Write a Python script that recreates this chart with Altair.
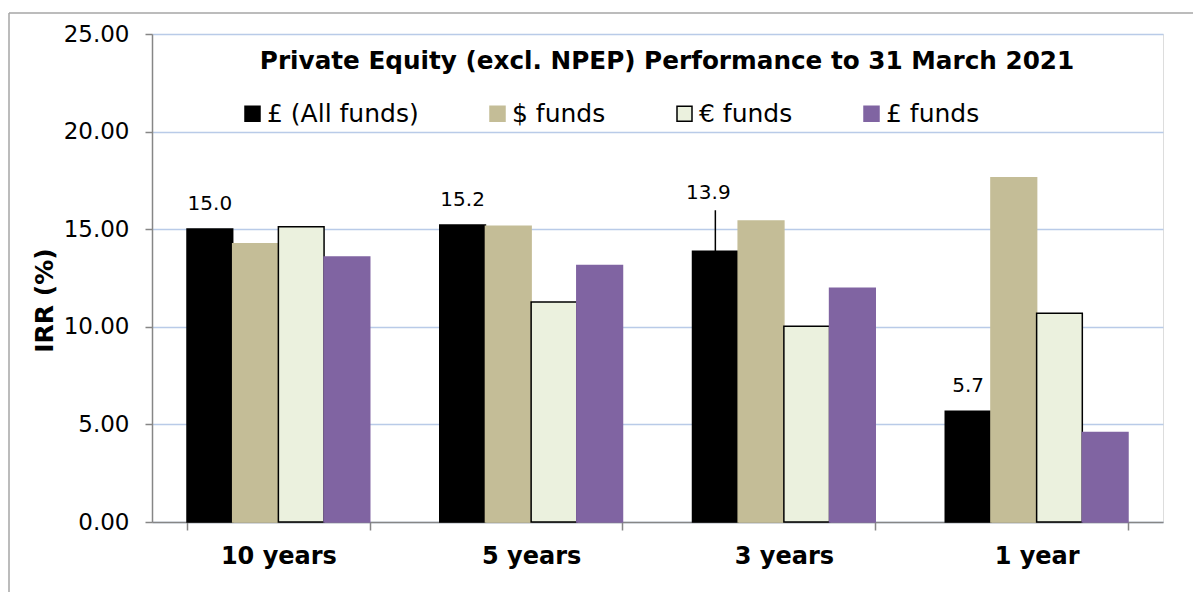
import altair as alt
import pandas as pd

periods = ["10 years", "5 years", "3 years", "1 year"]
series = ["£ (All funds)", "$ funds", "€ funds", "£ funds"]
all_funds = [15.01, 15.22, 13.87, 5.68]
usd_funds = [14.25, 15.15, 15.42, 17.63]
eur_funds = [15.12, 11.27, 10.03, 10.69]
gbp_funds = [13.57, 13.14, 11.98, 4.58]
fill_colors = ["#000000", "#c4bd97", "#ebf1de", "#8064a2"]
stroke_colors = ["#000000", "#c4bd97", "#000000", "#8064a2"]
y_ticks = [0, 5, 10, 15, 20, 25]
chart_title = "Private Equity (excl. NPEP) Performance to 31 March 2021"

rows = []
for s, vals in zip(series, [all_funds, usd_funds, eur_funds, gbp_funds]):
    for p, v in zip(periods, vals):
        rows.append({"period": p, "series": s, "value": v})
df = pd.DataFrame(rows)

FONT = "DejaVu Sans"

x_enc = alt.X("period:N", sort=periods,
              scale=alt.Scale(paddingInner=0.277, paddingOuter=0.1385),
              axis=alt.Axis(title=None, labelFont=FONT, labelFontSize=24, labelFontWeight="bold",
                            labelColor="#000000", labelAngle=0, labelPadding=14,
                            tickBand="extent", tickSize=8, tickColor="#868686", tickWidth=1.5,
                            domainColor="#868686", domainWidth=1.5, grid=False))
xo_enc = alt.XOffset("series:N", sort=series)
y_enc = alt.Y("value:Q", scale=alt.Scale(domain=[0, 25], nice=False),
              axis=alt.Axis(title="IRR (%)", values=y_ticks, format=".2f",
                            labelFont=FONT, labelFontSize=23, labelColor="#000000", labelPadding=16,
                            tickSize=7, tickColor="#868686", tickWidth=1.5,
                            domainColor="#868686", domainWidth=1.5,
                            gridColor="#b9cbe8", gridWidth=1.5,
                            titleFont=FONT, titleFontSize=25, titleFontWeight="bold", titleColor="#000000",
                            titleAngle=270, titleX=-100, titleY=266, titleBaseline="alphabetic",
                            titleAlign="center"))

color_scale = alt.Scale(domain=series, range=fill_colors)
stroke_scale = alt.Scale(domain=series, range=stroke_colors)
legend = alt.Legend(title=None, orient="none", legendX=88, legendY=67, direction="horizontal",
                    symbolType="square", symbolSize=225, symbolStrokeWidth=1.5,
                    labelFont=FONT, labelFontSize=25, labelColor="#000000", labelOffset=2,
                    columnPadding=66, padding=0, labelLimit=400)

bars = alt.Chart(df).mark_bar(strokeWidth=1.5).encode(
    x=x_enc, xOffset=xo_enc, y=y_enc,
    fill=alt.Fill("series:N", scale=color_scale, legend=legend, sort=series),
    stroke=alt.Stroke("series:N", scale=stroke_scale, legend=legend, sort=series),
)

lab_df = df[df["series"] == series[0]]
normal = alt.Chart(lab_df).transform_filter(alt.datum.period != "3 years").mark_text(
    font=FONT, fontSize=20, color="#000000", dy=-19, baseline="alphabetic"
).encode(x=alt.X("period:N", sort=periods), xOffset=alt.XOffset("series:N", sort=series),
         y="value:Q", text=alt.Text("value:Q", format=".1f"))

special = alt.Chart(lab_df).transform_filter(alt.datum.period == "3 years").mark_text(
    font=FONT, fontSize=20, color="#000000", dy=-52, dx=-7, baseline="alphabetic"
).encode(x=alt.X("period:N", sort=periods), xOffset=alt.XOffset("series:N", sort=series),
         y="value:Q", text=alt.Text("value:Q", format=".1f"))

leader = alt.Chart(lab_df).transform_filter(alt.datum.period == "3 years").mark_rule(
    color="#000000", strokeWidth=1.5, y2Offset=-41, xOffset=-5
).encode(x=alt.X("period:N", sort=periods), xOffset=alt.XOffset("series:N", sort=series),
         y="value:Q", y2="value:Q")

title = alt.Chart(pd.DataFrame({"t": [chart_title]})).mark_text(
    font=FONT, fontSize=24.7, fontWeight="bold", color="#000000", baseline="alphabetic", align="center"
).encode(x=alt.value(515), y=alt.value(35), text="t:N")

frame_src = pd.DataFrame({"a": [0]})
frame_top = alt.Chart(frame_src).mark_rule(stroke="#a6a6a6", strokeWidth=1.5, clip=False).encode(
    x=alt.value(-143), x2=alt.value(1041), y=alt.value(-21))
frame_left = alt.Chart(frame_src).mark_rule(stroke="#a6a6a6", strokeWidth=1.5, clip=False).encode(
    x=alt.value(-143), y=alt.value(-21), y2=alt.value(600))

chart = alt.layer(frame_top, frame_left, bars, normal, special, leader, title).properties(
    width=1011, height=488,
    padding={"left": 144, "top": 26, "right": 30, "bottom": 70},
    autosize=alt.AutoSizeParams(type="none"),
).configure_view(stroke=None).configure(background="#ffffff")

chart.save("out.html", embed_options={"renderer": "svg", "actions": False})
